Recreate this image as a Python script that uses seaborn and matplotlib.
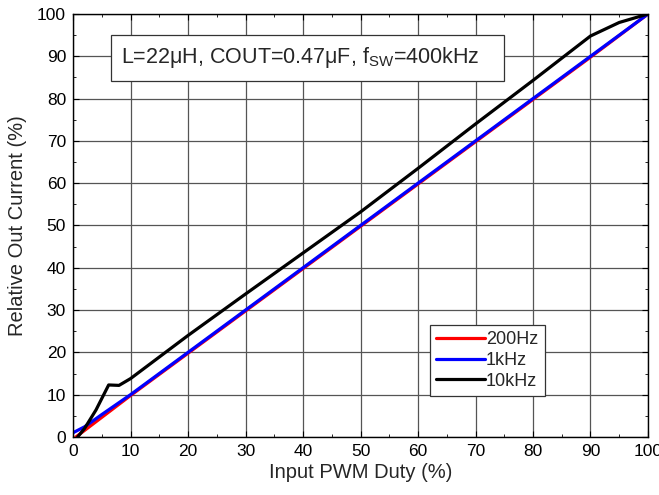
import matplotlib
matplotlib.use("Agg")
import matplotlib.pyplot as plt
from matplotlib.ticker import MultipleLocator
import pandas as pd
import seaborn as sns

duty_200hz = [0.5, 10, 20, 30, 40, 50, 60, 70, 80, 90, 100]
curr_200hz = [0.0, 9.8, 19.8, 29.8, 39.8, 49.8, 59.8, 69.8, 79.8, 89.8, 100]

duty_1khz = [0, 2, 5, 10, 20, 30, 40, 50, 60, 70, 80, 90, 100]
curr_1khz = [1.0, 2.4, 5.3, 10.0, 20.0, 30.0, 40.0, 50.0, 60.0, 70.0, 80.0, 90.0, 100]

duty_10khz = [0.8, 2, 4, 6.2, 8, 10, 20, 30, 40, 50, 60, 70, 80, 90, 95, 100]
curr_10khz = [0.0, 2.0, 6.4, 12.3, 12.2, 13.8, 24.0, 33.8, 43.5, 53.2, 63.5, 74.0, 84.3, 94.8, 98.0, 100]

series_names = ["200Hz", "1kHz", "10kHz"]
series_colors = ["#ff0000", "#0000ff", "#000000"]

frames = []
for name, xs, ys in zip(
    series_names,
    [duty_200hz, duty_1khz, duty_10khz],
    [curr_200hz, curr_1khz, curr_10khz],
):
    frames.append(pd.DataFrame({"duty": xs, "current": ys, "freq": name}))
df = pd.concat(frames, ignore_index=True)

sns.set_style("ticks")
plt.rcParams["font.family"] = ["Liberation Sans", "DejaVu Sans"]
plt.rcParams["mathtext.fontset"] = "custom"
plt.rcParams["mathtext.rm"] = "Liberation Sans"
plt.rcParams["mathtext.it"] = "Liberation Sans"

fig = plt.figure(figsize=(6.59, 4.95), dpi=100)
ax = fig.add_axes([0.1108, 0.1172, 0.8725, 0.8545])

sns.lineplot(
    data=df,
    x="duty",
    y="current",
    hue="freq",
    hue_order=series_names,
    palette=dict(zip(series_names, series_colors)),
    linewidth=2.3,
    sort=False,
    estimator=None,
    ax=ax,
    legend=False,
)

ax.set_xlim(0, 100)
ax.set_ylim(0, 100)
ax.xaxis.set_major_locator(MultipleLocator(10))
ax.yaxis.set_major_locator(MultipleLocator(10))
ax.xaxis.set_minor_locator(MultipleLocator(5))
ax.yaxis.set_minor_locator(MultipleLocator(5))
ax.grid(True, which="major", color="#555555", linewidth=0.9)
ax.set_axisbelow(True)
ax.tick_params(axis="both", which="both", direction="in", top=True, right=True,
               labelsize=12.5, colors="black", pad=5)
ax.tick_params(axis="both", which="major", length=4)
ax.tick_params(axis="both", which="minor", length=2.5)
for spine in ax.spines.values():
    spine.set_visible(True)
    spine.set_color("black")
    spine.set_linewidth(1.0)

ax.set_xlabel("Input PWM Duty (%)", fontsize=14.5, labelpad=3)
ax.set_ylabel("Relative Out Current (%)", fontsize=14.5, labelpad=7)

ax.text(
    8.4, 89.6,
    r"L=22μH, COUT=0.47μF, f$_{\mathrm{SW}}$=400kHz   ",
    fontsize=15.5, va="center", ha="left",
    bbox=dict(boxstyle="square,pad=0.5", facecolor="white", edgecolor="#333333", linewidth=0.9),
)

handles = [plt.Line2D([], [], color=c, linewidth=2.3) for c in series_colors]
leg = ax.legend(
    handles, series_names,
    loc="lower left", bbox_to_anchor=(0.621, 0.097),
    fontsize=13, frameon=True, fancybox=False, framealpha=1,
    edgecolor="#333333", handlelength=2.7, handletextpad=0.05,
    borderpad=0.35, labelspacing=0.2, borderaxespad=0,
)
leg.get_frame().set_linewidth(0.9)

fig.savefig("out.png", dpi=100)
